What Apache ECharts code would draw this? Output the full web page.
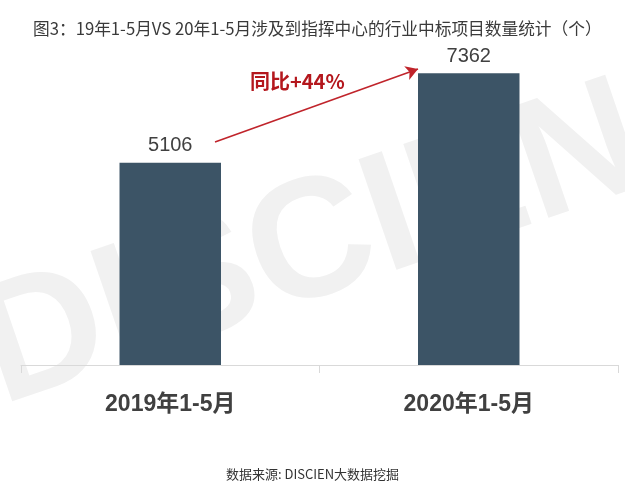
<!DOCTYPE html>
<html>
<head>
<meta charset="utf-8">
<script src="https://cdn.jsdelivr.net/npm/echarts@6/dist/echarts.min.js"></script>
<style>html,body{margin:0;padding:0;background:#fff;}#c{width:625px;height:498px;}</style>
</head>
<body>
<div id="c"></div>
<script>
var categories = ['2019年1-5月', '2020年1-5月'];
var values = [5106, 7362];
var titleText = '图3：19年1-5月VS 20年1-5月涉及到指挥中心的行业中标项目数量统计（个）';
var growthText = '同比+44%';
var sourceText = '数据来源: DISCIEN大数据挖掘';

var chart = echarts.init(document.getElementById('c'));
chart.setOption({
  backgroundColor: '#ffffff',
  animation: false,
  title: {
    text: titleText,
    left: 28, top: 15,
    textStyle: { fontFamily: 'Noto Sans CJK SC', fontWeight: 'normal', fontSize: 16.7, color: '#3a3a3a' }
  },
  graphic: [
    {
      type: 'text', z: -10, left: 'center', top: 'middle',
      style: { text: 'DISCIEN', font: 'bold 170px "Liberation Sans"', fill: '#f1f1f1' },
      rotation: 0.33, originX: 312, originY: 280
    },
    {
      type: 'text', left: 250, top: 71,
      style: { text: growthText, font: 'bold 20px "Noto Sans CJK SC"', fill: '#b4171d' }
    },
    {
      type: 'text', left: 'center', top: 468,
      style: { text: sourceText, font: '13px "Noto Sans CJK SC"', fill: '#333' }
    }
  ],
  grid: { left: 21, right: 7, top: 48, bottom: 133 },
  xAxis: {
    type: 'category',
    data: categories,
    axisLine: { lineStyle: { color: '#d9d9d9', width: 1 } },
    axisTick: { show: true, length: 8, lineStyle: { color: '#d9d9d9' } },
    axisLabel: { margin: 28, fontSize: 23, fontWeight: 'bold', color: '#404040', fontFamily: 'Liberation Sans, Noto Sans CJK SC' }
  },
  yAxis: {
    type: 'value', min: 0, max: 8000, show: false, splitLine: { show: false }
  },
  series: [{
    type: 'bar',
    data: values,
    barWidth: '34%',
    itemStyle: { color: '#3c5466' },
    label: {
      show: true, position: 'top', distance: 7,
      fontSize: 20, color: '#404040', fontFamily: 'Liberation Sans'
    },
    markLine: {
      silent: true,
      label: { show: false },
      lineStyle: { color: '#c0242b', width: 1.6, type: 'solid' },
      symbolSize: [11, 12],
      data: [[
        { x: 215, y: 142, symbol: 'none' },
        { x: 418, y: 69, symbol: 'arrow' }
      ]]
    }
  }]
});
</script>
</body>
</html>
